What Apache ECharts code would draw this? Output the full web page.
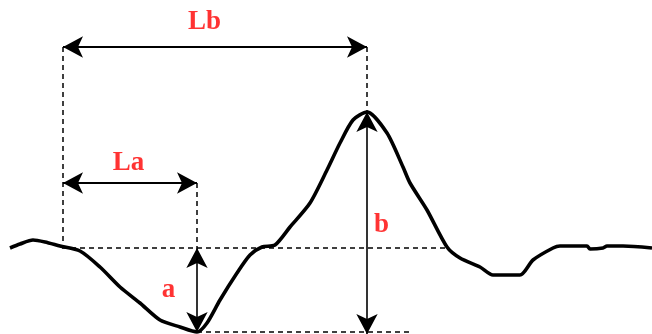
<!DOCTYPE html>
<html>
<head>
<meta charset="utf-8">
<script src="https://cdn.jsdelivr.net/npm/echarts@6/dist/echarts.min.js"></script>
<style>
  html, body { margin: 0; padding: 0; background: #fff; }
  #main { width: 652px; height: 334px; }
</style>
</head>
<body>
<div id="main"></div>
<script>
var myChart = echarts.init(document.getElementById('main'));

// waveform, x along the trace, y = amplitude relative to the baseline
var waveX = [10, 20, 33, 45, 60, 80, 100, 120, 140, 160, 180, 197, 207, 220, 237, 250, 262, 275, 290, 310, 327, 340, 353, 367, 387, 403, 410, 427, 447, 460, 480, 493, 520, 533, 553, 560, 587, 590, 603, 607, 623, 652];
var waveY = [0, 4, 8, 6, 2, -3, -19, -39, -55, -72, -79, -84, -75, -52, -25, -7, 1, 3, 21, 45, 78, 105, 128, 136, 115, 81, 65, 38, 1, -10, -19, -27, -27, -12, 0, 2, 2, -1, 0, 2, 2, 0];

// reference points of the measurement
var startX = 63;      // onset
var troughX = 197;    // minimum
var peakX = 367;      // maximum
var troughY = -84;
var peakY = 136;
var laLevel = 65;     // height of the La arrow
var lbLevel = 201;    // height of the Lb arrow

var labelText = ['Lb', 'La', 'a', 'b'];
var labelX = [205, 129, 169, 382];
var labelY = [225, 84, -43, 22];

var dashStyle = { color: '#000', width: 1.5, type: [5, 4] };
var arrowStyle = { color: '#000', width: 2.2, type: 'solid' };
var thinArrow = { color: '#000', width: 1.6, type: 'solid' };

function seg(x1, y1, x2, y2, style) {
  return [{ coord: [x1, y1], lineStyle: style }, { coord: [x2, y2] }];
}

myChart.setOption({
  animation: false,
  grid: { left: 0, right: 0, top: 0, bottom: 0 },
  xAxis: { type: 'value', min: 0, max: 652, show: false },
  yAxis: { type: 'value', min: -86, max: 248, show: false },
  series: [
    {
      type: 'line',
      data: waveX.map(function (x, i) { return [x, waveY[i]]; }),
      symbol: 'none',
      smooth: 0.25,
      lineStyle: { color: '#000', width: 3.6 },
      markLine: {
        silent: true,
        symbol: ['none', 'none'],
        label: { show: false },
        lineStyle: { type: 'solid' },
        data: [
          seg(62, 0, 447, 0, dashStyle),
          seg(troughX, troughY, 412, troughY, dashStyle),
          seg(startX, lbLevel, startX, 0, dashStyle),
          seg(peakX, lbLevel, peakX, peakY, dashStyle),
          seg(troughX, laLevel, troughX, 0, dashStyle)
        ]
      }
    },
    {
      type: 'line',
      data: [],
      markLine: {
        silent: true,
        symbol: ['arrow', 'arrow'],
        symbolSize: [16, 20],
        label: { show: false },
        lineStyle: { type: 'solid', color: '#000' },
        data: [
          seg(startX, lbLevel, peakX, lbLevel, arrowStyle),
          seg(startX, laLevel, troughX, laLevel, arrowStyle),
          seg(troughX, 0, troughX, troughY, thinArrow),
          seg(peakX, peakY, peakX, -86, thinArrow)
        ]
      }
    },
    {
      type: 'scatter',
      symbol: 'circle',
      symbolSize: 1,
      itemStyle: { color: 'rgba(0,0,0,0)' },
      data: labelX.map(function (x, i) { return { value: [x, labelY[i]], name: labelText[i] }; }),
      label: {
        show: true,
        position: [0, 0],
        align: 'center',
        verticalAlign: 'middle',
        formatter: '{b}',
        color: '#ff0000',
        fontFamily: 'Liberation Serif',
        fontWeight: 'bold',
        fontSize: 27
      }
    }
  ]
});
</script>
</body>
</html>
